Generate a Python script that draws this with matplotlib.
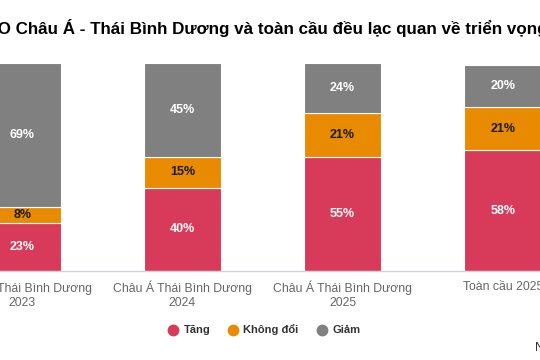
import numpy as np
import matplotlib
matplotlib.use("Agg")
import matplotlib.pyplot as plt
from matplotlib.lines import Line2D

plt.rcParams['font.family'] = ['Liberation Sans', 'DejaVu Sans']

categories = ['Châu Á Thái Bình Dương\n2023', 'Châu Á Thái Bình Dương\n2024',
              'Châu Á Thái Bình Dương\n2025', 'Toàn cầu 2025']
tang = [23, 40, 55, 58]
khong_doi = [8, 15, 21, 21]
giam = [69, 45, 24, 20]
series_names = ['Tăng', 'Không đổi', 'Giảm']

col_red = '#d83a5a'
col_org = '#e98b00'
col_gry = '#808080'

W, H = 540, 360
fig = plt.figure(figsize=(5.4, 3.6), dpi=100)
fig.patch.set_facecolor('white')

# axes wider than the figure so that the outer bars are cut like the reference
ax = fig.add_axes([-58 / W, 89 / H, 641 / W, 208 / H])
x = np.arange(len(categories))
bw = 0.48

ax.bar(x, tang, bw, color=col_red, edgecolor='white', linewidth=0.8)
ax.bar(x, khong_doi, bw, bottom=tang, color=col_org, edgecolor='white', linewidth=0.8)
bot3 = np.array(tang) + np.array(khong_doi)
ax.bar(x, giam, bw, bottom=bot3, color=col_gry, edgecolor='white', linewidth=0.8)

for i in range(len(x)):
    ax.text(x[i], tang[i] / 2, f'{tang[i]}%', ha='center', va='center',
            color='white', fontsize=9, fontweight='bold')
    ax.text(x[i], tang[i] + khong_doi[i] / 2, f'{khong_doi[i]}%', ha='center', va='center',
            color='#1a1a1a', fontsize=9, fontweight='bold')
    ax.text(x[i], bot3[i] + giam[i] / 2, f'{giam[i]}%', ha='center', va='center',
            color='white', fontsize=9, fontweight='bold')

ax.set_xlim(-0.5, 3.5)
ax.set_ylim(0, 100)
ax.set_yticks([])
ax.set_xticks(x)
ax.set_xticklabels(categories, fontsize=8.8, color='#666666', linespacing=1.25)
ax.tick_params(axis='x', length=0, pad=7)
for s in ['top', 'right', 'left']:
    ax.spines[s].set_visible(False)
ax.spines['bottom'].set_color('#ccd3dd')
ax.spines['bottom'].set_linewidth(1)
ax.set_facecolor('none')

fig.text(-26 / W, 1 - 28 / H,
         'CEO Châu Á - Thái Bình Dương và toàn cầu đều lạc quan về triển vọng tăng trưởng',
         ha='left', va='center', fontsize=12.25, fontweight='bold', color='#000000')

handles = [Line2D([], [], marker='o', linestyle='', markersize=7.5, color=c)
           for c in [col_red, col_org, col_gry]]
leg = fig.legend(handles, series_names, loc='center', bbox_to_anchor=(264 / W, 1 - 330 / H),
                 ncol=3, frameon=False, handlelength=1.0, handletextpad=0.4,
                 columnspacing=1.6, prop={'weight': 'bold', 'size': 8})
for t in leg.get_texts():
    t.set_color('#333333')

fig.text(535 / W, 1 - 348 / H, 'Nguồn: PwC', ha='left', va='center',
         fontsize=9, color='#333333')

fig.savefig('out.png', dpi=100)
